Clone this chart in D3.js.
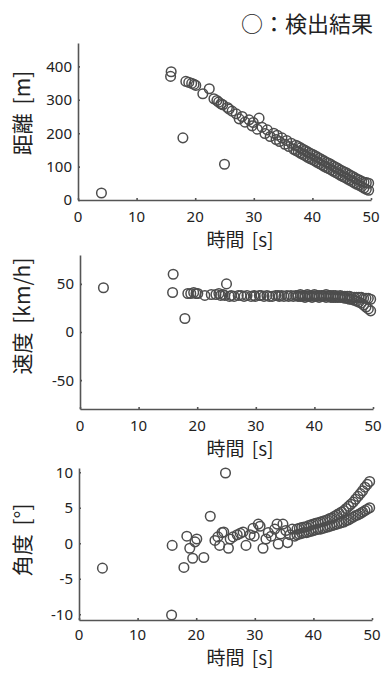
<!DOCTYPE html>
<html><head><meta charset="utf-8">
<script src="https://cdn.jsdelivr.net/npm/d3@7"></script>
<style>
html,body{margin:0;padding:0;background:#fff;}
svg{display:block;font-family:"Noto Sans CJK JP","Noto Sans",sans-serif;}
</style></head>
<body>
<svg id="chart" width="384" height="673"></svg>
<script>
// ---- data (detections: time, distance, speed, angle) ----
const time = [4.0, 15.9, 15.8, 17.9, 25.0, 18.4, 18.9, 19.4, 19.8, 20.1, 21.3, 22.4, 23.2, 23.7, 24.0, 24.4, 24.7, 25.5, 25.8,
  26.3, 27.0, 27.5, 28.0, 28.5, 29.2, 29.7, 29.9, 30.6, 30.9, 31.4, 31.9, 32.3, 32.8, 33.4, 33.8, 34.0, 34.4, 34.8, 35.3, 35.6, 36.0, 36.4, 36.8,
  37.2, 37.2, 37.6, 37.6, 38.0, 38.0, 38.4, 38.4, 38.8, 38.8, 39.2, 39.2, 39.6, 39.6, 40.0, 40.0, 40.4, 40.4, 40.8, 40.8,
  41.2, 41.2, 41.6, 41.6, 42.0, 42.0, 42.4, 42.4, 42.8, 42.8, 43.2, 43.2, 43.6, 43.6, 44.0, 44.0, 44.4, 44.4, 44.8, 44.8,
  45.2, 45.2, 45.6, 45.6, 46.0, 46.0, 46.4, 46.4, 46.8, 46.8, 47.2, 47.2, 47.6, 47.6, 48.0, 48.0, 48.4, 48.4, 48.8, 48.8,
  49.2, 49.2, 49.6, 49.6];
const distance = [21, 384, 370, 186, 107, 355, 352, 349, 346, 343, 318, 333, 303, 298, 293, 288, 285, 277, 272,
  266, 258, 243, 250, 233, 240, 222, 232, 212, 245, 218, 199, 210, 190, 200, 181, 194, 175, 186, 167, 178, 160, 170, 152,
  164, 148, 160, 144, 156, 140, 152, 136, 148, 132, 144, 128, 140, 124, 137, 121, 133, 117, 129, 113,
  125, 109, 121, 105, 117, 101, 113, 97, 110, 94, 106, 90, 102, 86, 98, 82, 94, 78, 90, 74,
  86, 70, 83, 67, 79, 63, 75, 59, 71, 55, 67, 51, 63, 47, 60, 44, 56, 40, 53, 36,
  52, 32, 50, 29];
const speed = [46, 60, 41, 14, 50, 40, 40, 41, 40, 40, 38, 39, 39, 40, 38, 39, 38, 37, 38,
  37, 38, 38, 37, 38, 37, 38, 37, 38, 38, 37, 38, 37, 37, 38, 38, 37, 38, 37, 38, 37, 38, 37, 38,
  38, 37, 39, 37, 38, 37, 38, 36, 39, 37, 38, 37, 38, 36, 39, 37, 38, 37, 38, 36,
  38, 37, 38, 37, 39, 36, 38, 37, 38, 36, 38, 36, 38, 36, 37, 36, 38, 36, 37, 36,
  37, 35, 37, 35, 37, 34, 36, 34, 36, 33, 36, 32, 36, 31, 36, 30, 35, 28, 35, 26,
  35, 24, 34, 22];
const angle = [-3.5, -0.3, -10.1, -3.4, 9.9, 1.0, -0.7, -2.1, 0.2, 0.6, -2.0, 3.8, 0.4, 0.9, -0.3, 1.5, 1.6, -0.7, 0.6,
  0.9, 1.2, 1.4, 1.6, -0.3, 1.2, 2.1, 1.0, 2.7, 2.4, -0.7, 0.6, 1.5, 1.0, 2.0, 2.7, -0.1, 1.3, 2.7, 1.8, 0.1, 1.2, 2.0, 1.0,
  2.0, 1.2, 2.1, 1.3, 2.2, 1.4, 2.3, 1.5, 2.3, 1.5, 2.5, 1.6, 2.6, 1.7, 2.7, 1.8, 2.8, 1.9, 2.9, 2.0,
  3.0, 2.0, 3.1, 2.1, 3.2, 2.2, 3.3, 2.3, 3.5, 2.4, 3.6, 2.5, 3.8, 2.6, 4.0, 2.7, 4.2, 2.8, 4.4, 2.9,
  4.6, 3.0, 4.9, 3.2, 5.2, 3.3, 5.5, 3.5, 5.8, 3.7, 6.2, 3.9, 6.6, 4.0, 7.0, 4.2, 7.4, 4.4, 7.9, 4.6,
  8.3, 4.8, 8.7, 5.0];

const xTicks = [0, 10, 20, 30, 40, 50];
const distTicks = [0, 100, 200, 300, 400];
const speedTicks = [-50, 0, 50];
const angleTicks = [-10, -5, 0, 5, 10];

const legendText = "○：検出結果";
const xLabel = "時間 [s]";
const yLabels = ["距離 [m]", "速度 [km/h]", "角度 [°]"];

// ---- layout ----
const svg = d3.select("#chart");
const axisColor = "#555";
const markColor = "#4d4d4d";

svg.append("text")
  .attr("x", 373).attr("y", 32)
  .attr("text-anchor", "end")
  .attr("font-size", 22)
  .attr("fill", "#222")
  .text(legendText);

const panels = [
  {vals: distance, domain: [0, 470], ticks: distTicks, x0: 78, x1: 371, yTop: 43, yBot: 200, label: yLabels[0], labelY: 113, tickY: 222, xLabY: 247},
  {vals: speed, domain: [-80, 80], ticks: speedTicks, x0: 80, x1: 373, yTop: 255, yBot: 409, label: yLabels[1], labelY: 316, tickY: 431, xLabY: 456},
  {vals: angle, domain: [-10.8, 10.6], ticks: angleTicks, x0: 79, x1: 372, yTop: 468, yBot: 620, label: yLabels[2], labelY: 540, tickY: 640, xLabY: 665}
];

panels.forEach(p => {
  const x = d3.scaleLinear().domain([0, 50]).range([p.x0, p.x1]);
  const y = d3.scaleLinear().domain(p.domain).range([p.yBot, p.yTop]);
  const g = svg.append("g");

  // points
  g.append("g").selectAll("circle")
    .data(time.map((t, i) => [t, p.vals[i]]))
    .join("circle")
    .attr("cx", d => x(d[0]))
    .attr("cy", d => y(d[1]))
    .attr("r", 4.8)
    .attr("fill", "none")
    .attr("stroke", markColor)
    .attr("stroke-width", 1.5);

  // x axis
  const xa = g.append("g").attr("transform", `translate(0,${p.yBot})`)
    .call(d3.axisBottom(x).tickValues(xTicks).tickSize(-2).tickSizeOuter(0).tickPadding(6));
  xa.select(".domain").attr("stroke", axisColor).attr("stroke-width", 1.6);
  xa.selectAll(".tick line").attr("stroke", axisColor).attr("stroke-width", 1.6);
  xa.selectAll(".tick text").remove();
  g.append("g").selectAll("text").data(xTicks).join("text")
    .attr("x", d => x(d)).attr("y", p.tickY)
    .attr("text-anchor", "middle")
    .attr("font-size", 15).attr("fill", "#222")
    .attr("font-family", "'Noto Sans', sans-serif")
    .text(d => d);

  // y axis
  const ya = g.append("g").attr("transform", `translate(${p.x0},0)`)
    .call(d3.axisLeft(y).tickValues(p.ticks).tickSize(-2).tickSizeOuter(0));
  ya.select(".domain").attr("stroke", axisColor).attr("stroke-width", 1.6);
  ya.selectAll(".tick line").attr("stroke", axisColor).attr("stroke-width", 1.6);
  ya.selectAll(".tick text").remove();
  g.append("g").selectAll("text").data(p.ticks).join("text")
    .attr("x", p.x0 - 6).attr("y", d => y(d))
    .attr("dy", "0.36em")
    .attr("text-anchor", "end")
    .attr("font-size", 15).attr("fill", "#222")
    .attr("font-family", "'Noto Sans', sans-serif")
    .text(d => d);

  // labels
  g.append("text")
    .attr("transform", `translate(30,${p.labelY}) rotate(-90)`)
    .attr("text-anchor", "middle")
    .attr("font-size", 21).attr("fill", "#222")
    .attr("word-spacing", 4)
    .text(p.label);
  g.append("text")
    .attr("x", 240).attr("y", p.xLabY)
    .attr("text-anchor", "middle")
    .attr("font-size", 19).attr("fill", "#222")
    .attr("word-spacing", 3)
    .text(xLabel);
});
</script>
</body></html>
